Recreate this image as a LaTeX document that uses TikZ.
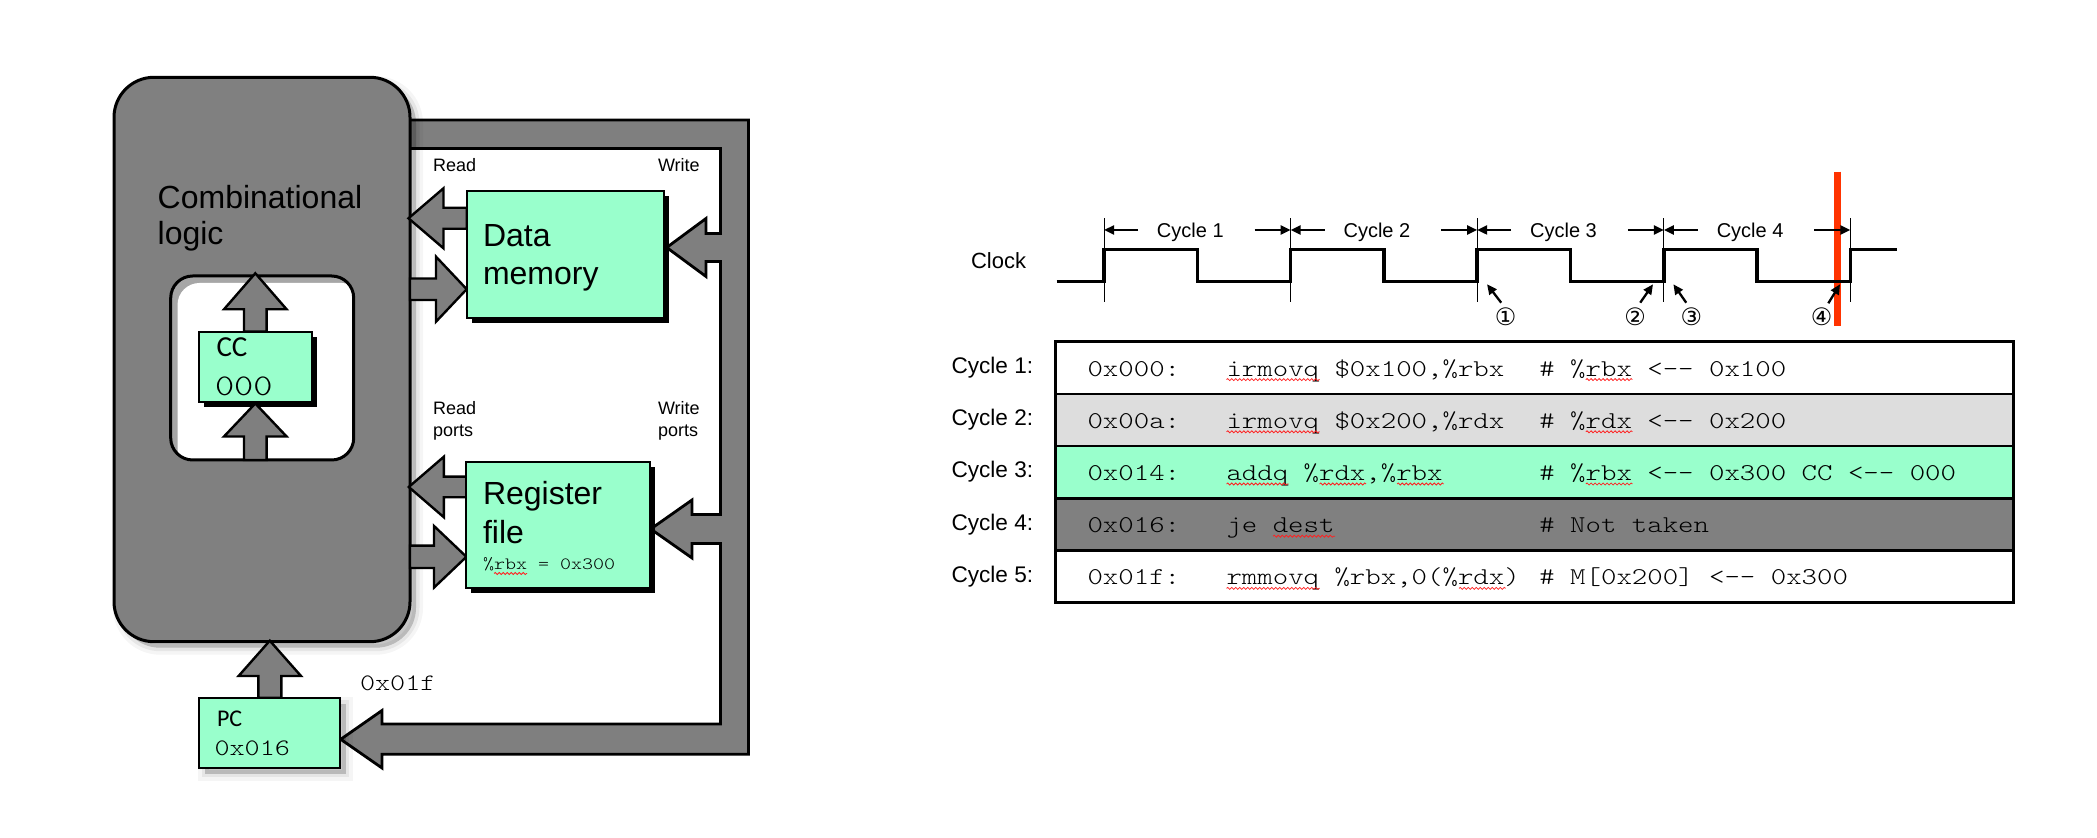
\documentclass[tikz,border=0pt]{standalone}
\usepackage{fontspec}
\setmainfont{Liberation Sans}
\newfontfamily\codefont{Latin Modern Mono Light}[FakeStretch=1.22]
\newfontfamily\calfont{Carlito}
\newfontfamily\symbfont{DejaVu Sans}
\usetikzlibrary{arrows.meta,calc,fit,shadows,decorations.pathmorphing}
\definecolor{mint}{HTML}{99FFCC}
\definecolor{logicgray}{HTML}{808080}
\definecolor{busgray}{HTML}{7F7F7F}
\definecolor{rowgray}{HTML}{DDDDDD}
\definecolor{marker}{HTML}{FF3300}
\definecolor{spell}{HTML}{FF2020}
\newcommand\codearrow{<\mbox{-}\mbox{-}}

\begin{document}
\begin{tikzpicture}[x=0.5pt,y=-0.5pt,
  txt/.style={inner sep=0pt, outer sep=0pt, anchor=base west},
  bigtxt/.style={txt, font=\fontsize{16}{19}\selectfont},
  porttxt/.style={txt, font=\fontsize{9}{11}\selectfont},
  cycletxt/.style={txt, font=\fontsize{11.3}{13}\selectfont},
  codetxt/.style={txt, font=\codefont\fontsize{12.05}{15}\selectfont},
  box/.style={inner sep=0pt, outer sep=0pt},
  regbox/.style={box, draw=black, line width=1pt, fill=mint},
  hardshadow/.style={drop shadow={shadow xshift=2.5pt, shadow yshift=-2.5pt, opacity=1, fill=black}},
  softshadow/.style={
    general shadow={shadow xshift=3pt, shadow yshift=-3pt, fill=black, draw=black, line width=7pt, opacity=0.04},
    general shadow={shadow xshift=3pt, shadow yshift=-3pt, fill=black, draw=black, line width=3.5pt, opacity=0.06},
    general shadow={shadow xshift=3pt, shadow yshift=-3pt, fill=black, opacity=0.1}},
  blockarrow/.style={fill=busgray, draw=black, line width=1.2pt, line join=miter},
  bus/.style={fill=busgray, draw=black, line width=1.4pt, line join=miter},
  wave/.style={draw=black, line width=1.75pt, line join=miter},
  tickline/.style={draw=black, line width=0.5pt},
  ptr/.style={draw=black, line width=1.15pt, -{Triangle[length=5pt,width=4.5pt]}},
  circnum/.style={inner sep=0pt, font=\symbfont\fontsize{12}{14}\selectfont},
  squig/.style={draw=spell, line width=0.4pt, decorate, decoration={snake, amplitude=0.5pt, segment length=2pt}},
  row/.style={box, draw=black, line width=1.3pt},
]
\useasboundingbox (0,0) rectangle (2097,838);
\fill[white] (0,0) rectangle (2097,838);

% ---------------- processor state ----------------
% feedback bus from the write ports back to the PC
\draw[bus] (380,120) -- (748.5,120) -- (748.5,754.3) -- (382,754.3) -- (382,768)
  -- (340.7,739.3) -- (382,710.5) -- (382,724) -- (720.5,724) -- (720.5,543.5)
  -- (692,543.5) -- (692,558) -- (650.7,529) -- (692,500) -- (692,514.5)
  -- (720.5,514.5) -- (720.5,261.5) -- (706,261.5) -- (706,276.5) -- (666.7,247.5)
  -- (706,218.5) -- (706,233.5) -- (720.5,233.5) -- (720.5,148.5) -- (380,148.5) -- cycle;

% combinational logic block
\node[box, fit={(114,77.3) (410,641.7)}, draw=black, line width=1.5pt, fill=logicgray,
      rounded corners=20pt, softshadow] (comb) {};
\node[bigtxt] (comb1) at (157.7,208.3) {Combinational};
\node[bigtxt] (comb2) at (157.7,245) {logic};

% window holding the condition codes
\begin{scope}
  \clip[rounded corners=11pt] (170.7,276) rectangle (353.7,460);
  \fill[gray!70] (170.7,276) rectangle (353.7,460);
  \fill[white, rounded corners=11pt] (177.5,283) rectangle (363.7,470);
\end{scope}
\node[box, fit={(170.7,276) (353.7,460)}, draw=black, line width=1.5pt, rounded corners=11pt] (ccwin) {};

\node[regbox, hardshadow, fit={(199,331.7) (312.3,401.7)}] (cc) {};
\node[txt, font=\calfont\fontsize{14.5}{16}\selectfont] (cclbl) at (216.5,357) {CC};
\node[txt, font=\codefont\fontsize{15}{17}\selectfont] (ccval) at (215,396) {000};

% CC in / out arrows
\path[blockarrow] (244,331.7) -- (244,309.3) -- (224,309.3) -- (255.3,273.3) -- (286.6,309.3)
  -- (266.6,309.3) -- (266.6,331.7) -- cycle;
\path[blockarrow] (244,460) -- (244,436.5) -- (224,436.5) -- (255.3,403.5) -- (286.6,436.5)
  -- (266.6,436.5) -- (266.6,460) -- cycle;

% data memory ports
\path[blockarrow] (466.7,207.8) -- (443.5,207.8) -- (443.5,188.3) -- (408.5,218.3)
  -- (443.5,248.3) -- (443.5,228.8) -- (466.7,228.8) -- cycle;
\path[blockarrow] (410,278.5) -- (436,278.5) -- (436,256.7) -- (466.7,289.2)
  -- (436,321.7) -- (436,300) -- (410,300) -- cycle;
% register file ports
\path[blockarrow] (466.4,476.7) -- (443.9,476.7) -- (443.9,456.7) -- (408.8,487)
  -- (443.9,517.3) -- (443.9,497.3) -- (466.4,497.3) -- cycle;
\path[blockarrow] (410,545.7) -- (434,545.7) -- (434,526) -- (466.4,556.8)
  -- (434,587.6) -- (434,568) -- (410,568) -- cycle;

\node[regbox, hardshadow, fit={(466.7,190.7) (664.3,318.3)}] (dmem) {};
\node[bigtxt] (dmem1) at (483,246.7) {Data};
\node[bigtxt] (dmem2) at (483,285) {memory};

\node[regbox, hardshadow, fit={(466.4,461.7) (649.9,587.7)}] (regf) {};
\node[bigtxt] (regf1) at (483,505) {Register};
\node[bigtxt] (regf2) at (483,543.3) {file};
\node[txt, font=\codefont\fontsize{8.6}{11}\selectfont] (regf3) at (483,570) {\%rbx = 0x300};
\draw[squig] (494,573.5) -- (527,573.5);

\node[porttxt] (rd1) at (433,171.7) {Read};
\node[porttxt] (wr1) at (658,171.7) {Write};
\node[porttxt] (rd2) at (433,415) {Read};
\node[porttxt] (rd3) at (433,436.7) {ports};
\node[porttxt] (wr2) at (658,415) {Write};
\node[porttxt] (wr3) at (658,436.7) {ports};

% program counter
\path[blockarrow] (258.3,697.7) -- (258.3,676) -- (238.6,676) -- (269.8,640.7) -- (301,676)
  -- (281.3,676) -- (281.3,697.7) -- cycle;
\node[regbox, softshadow, fit={(199,697.7) (339.8,767.7)}] (pc) {};
\node[txt, font=\calfont\fontsize{12}{14}\selectfont] (pclbl) at (217,726.7) {PC};
\node[txt, font=\codefont\fontsize{11.8}{14}\selectfont] (pcval) at (214.5,755) {0x016};
\node[txt, font=\codefont\fontsize{11.8}{14}\selectfont] (nextpc) at (360,690.7) {0x01f};

% ---------------- clock ----------------
\draw[line width=3.5pt, marker] (1837.5,171.7) -- (1837.5,325.7);

\node[txt, font=\fontsize{11}{13}\selectfont] (clk) at (971,268.3) {Clock};
\draw[wave] (1056.7,281.7) -| (1104,249.3) -| (1197.3,281.7) -| (1290.6,249.3)
  -| (1383.9,281.7) -| (1477.2,249.3) -| (1570.5,281.7) -| (1663.8,249.3)
  -| (1757.1,281.7) -| (1850.4,249.3) -- (1896.7,249.3);
\foreach \e in {1104,1290.6,1477.2,1663.8,1850.4}
  \draw[tickline] (\e,218.5) -- (\e,301.7);

\coordinate (e1) at (1104,230);
\coordinate (e2) at (1290.6,230);
\coordinate (e3) at (1477.2,230);
\coordinate (e4) at (1663.8,230);
\coordinate (e5) at (1850.4,230);
\foreach \a/\b [count=\k] in {e1/e2,e2/e3,e3/e4,e4/e5}{
  \draw[ptr] ($(\a)+(34,0)$) -- (\a);
  \draw[ptr] ($(\b)+(-36,0)$) -- (\b);
  \node[inner sep=0pt, anchor=base, font=\fontsize{10}{12}\selectfont] (cyc\k)
    at ($(\a)!0.5!(\b)+(-7,7.3)$) {Cycle \k};
}

\node[circnum] (n1) at (1505.7,316.5) {①};
\node[circnum] (n2) at (1635.2,316.5) {②};
\node[circnum] (n3) at (1691.3,316.5) {③};
\node[circnum] (n4) at (1821.7,316.5) {④};
\coordinate (p1a) at (1501.2,302.7); \coordinate (p1b) at (1487,284.3);
\coordinate (p2a) at (1640.2,302.7); \coordinate (p2b) at (1653,284.3);
\coordinate (p3a) at (1686.2,302.7); \coordinate (p3b) at (1673.4,284.3);
\coordinate (p4a) at (1828.3,303.3); \coordinate (p4b) at (1840,284.3);
\draw[ptr] (p1a) -- (p1b);
\draw[ptr] (p2a) -- (p2b);
\draw[ptr] (p3a) -- (p3b);
\draw[ptr] (p4a) -- (p4b);

% ---------------- instruction trace ----------------
\node[row, fill=white,     fit={(1055.7,341.7) (2013.3,393.9)}] (r1) {};
\node[row, fill=rowgray,   fit={(1055.7,393.9) (2013.3,446.1)}] (r2) {};
\node[row, fill=mint,      fit={(1055.7,446.1) (2013.3,498.3)}] (r3) {};
\node[row, fill=logicgray, fit={(1055.7,498.3) (2013.3,550.5)}] (r4) {};
\node[row, fill=white,     fit={(1055.7,550.5) (2013.3,602.7)}] (r5) {};

\node[cycletxt] (c1) at (951.5,373.5) {Cycle 1:};
\node[cycletxt] (c2) at (951.5,425.7) {Cycle 2:};
\node[cycletxt] (c3) at (951.5,477.9) {Cycle 3:};
\node[cycletxt] (c4) at (951.5,530.1) {Cycle 4:};
\node[cycletxt] (c5) at (951.5,582.3) {Cycle 5:};

\node[codetxt] (a1) at (1087.5,376.1) {0x000:};
\node[codetxt] (i1) at (1226.5,376.1) {irmovq \$0x100,\%rbx};
\node[codetxt] (m1) at (1539.3,376.1) {\# \%rbx \codearrow{} 0x100};

\node[codetxt] (a2) at (1087.5,428.3) {0x00a:};
\node[codetxt] (i2) at (1226.5,428.3) {irmovq \$0x200,\%rdx};
\node[codetxt] (m2) at (1539.3,428.3) {\# \%rdx \codearrow{} 0x200};

\node[codetxt] (a3) at (1087.5,480.5) {0x014:};
\node[codetxt] (i3) at (1226.5,480.5) {addq \%rdx,\%rbx};
\node[codetxt] (m3) at (1539.3,480.5) {\# \%rbx \codearrow{} 0x300 CC \codearrow{} 000};

\node[codetxt] (a4) at (1087.5,532.7) {0x016:};
\node[codetxt] (i4) at (1226.5,532.7) {je dest};
\node[codetxt] (m4) at (1539.3,532.7) {\# Not taken};

\node[codetxt] (a5) at (1087.5,584.9) {0x01f:};
\node[codetxt] (i5) at (1226.5,584.9) {rmmovq \%rbx,0(\%rdx)};
\node[codetxt] (m5) at (1539.3,584.9) {\# M[0x200] \codearrow{} 0x300};

% spelling marks under unknown words
\draw[squig] (1226.5,379.6) -- (1319.5,379.6);
\draw[squig] (1585.8,379.6) -- (1632.3,379.6);
\draw[squig] (1226.5,431.8) -- (1319.5,431.8);
\draw[squig] (1585.8,431.8) -- (1632.3,431.8);
\draw[squig] (1226.5,484) -- (1288.5,484);
\draw[squig] (1319.5,484) -- (1366,484);
\draw[squig] (1397,484) -- (1443.5,484);
\draw[squig] (1585.8,484) -- (1632.3,484);
\draw[squig] (1273,536.2) -- (1335,536.2);
\draw[squig] (1226.5,588.4) -- (1319.5,588.4);
\draw[squig] (1459,588.4) -- (1505.5,588.4);
\end{tikzpicture}
\end{document}
